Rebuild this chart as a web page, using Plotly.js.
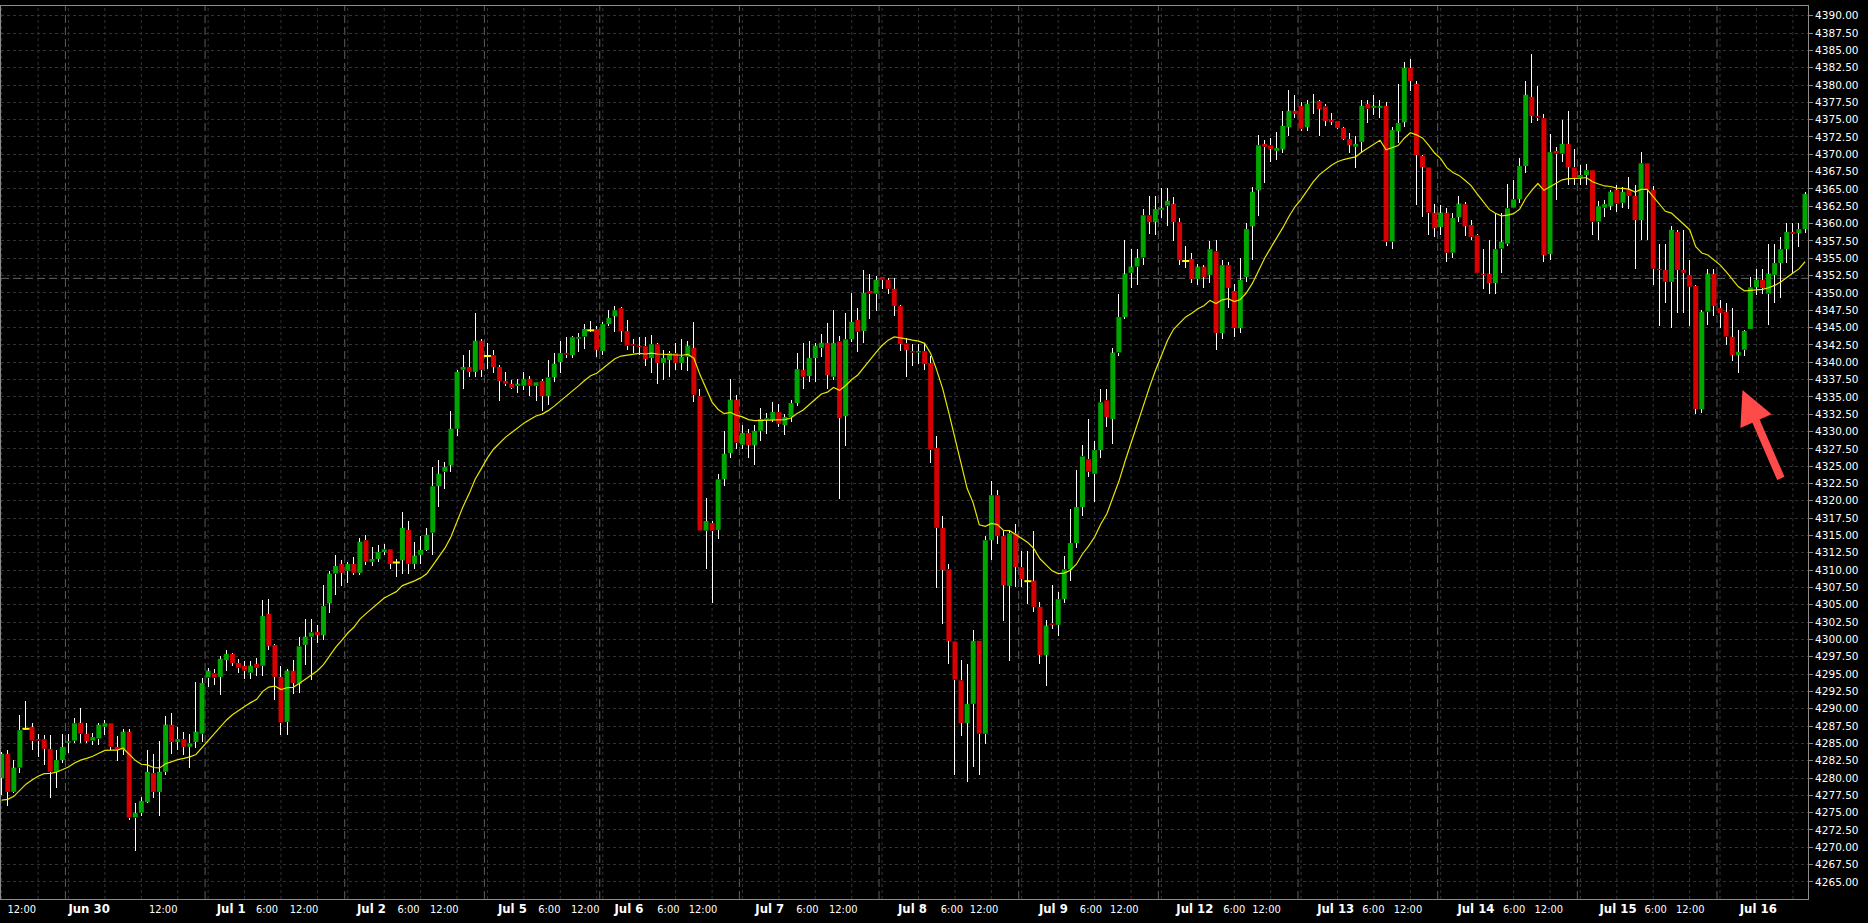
<!DOCTYPE html>
<html><head><meta charset="utf-8">
<script src="https://cdn.plot.ly/plotly-3.0.1.min.js"></script>
<style>html,body{margin:0;padding:0;background:#000;}#chart{width:1868px;height:923px;}
.scatterlayer .trace:first-child path.js-line{shape-rendering:crispEdges;}</style>
</head><body><div id="chart"></div>
<script>
// Hourly candles, Jun 29 12:00 -> Jul 16
const opens = [
4280.0,4283.5,4278.0,4281.5,4287.1,4287.4,4285.6,4285.6,4284.2,4280.9,
4282.6,4285.1,4285.4,4288.0,4286.4,4285.4,4285.7,4287.4,4287.9,4284.5,
4284.1,4286.7,4274.3,4275.0,4276.5,4280.7,4278.0,4280.9,4287.7,4285.2,
4285.6,4284.5,4285.2,4286.4,4294.5,4295.1,4294.6,4297.0,4297.9,4296.6,
4296.2,4295.2,4296.5,4296.2,4303.7,4299.2,4294.6,4288.1,4295.5,4293.6,
4299.2,4300.4,4301.1,4300.6,4305.2,4309.5,4310.9,4309.9,4310.9,4309.6,
4314.3,4311.2,4311.6,4312.6,4313.0,4311.1,4311.4,4315.8,4310.9,4312.2,
4312.9,4315.4,4322.1,4324.2,4325.1,4330.4,4338.9,4339.3,4338.6,4343.1,
4340.9,4341.0,4339.3,4337.3,4336.9,4336.6,4336.6,4337.6,4336.6,4337.3,
4335.1,4337.8,4340.0,4341.3,4341.0,4343.4,4343.7,4344.6,4344.8,4341.6,
4345.5,4346.6,4347.8,4344.5,4342.6,4342.4,4342.3,4340.6,4342.6,4339.9,
4340.3,4341.3,4339.9,4340.8,4342.1,4335.1,4315.7,4316.8,4315.8,4323.1,
4326.9,4334.6,4328.1,4329.8,4328.0,4330.1,4331.7,4331.7,4332.8,4330.9,
4332.1,4334.1,4338.9,4338.0,4340.6,4342.1,4342.8,4337.9,4343.0,4332.2,
4343.3,4346.1,4344.5,4350.3,4349.9,4352.3,4351.9,4350.6,4348.1,4342.7,
4341.6,4341.4,4341.6,4339.9,4327.6,4316.1,4310.1,4299.7,4294.1,4287.9,
4290.7,4299.8,4286.4,4314.3,4320.8,4314.9,4307.7,4315.3,4310.4,4308.4,
4308.5,4304.7,4297.7,4302.3,4302.1,4305.8,4310.1,4313.9,4319.1,4326.0,
4323.9,4327.3,4334.5,4331.8,4341.4,4346.5,4352.9,4353.8,4355.1,4361.2,
4360.2,4362.0,4362.6,4362.9,4360.2,4354.6,4354.9,4352.0,4353.8,4352.6,
4356.0,4344.2,4354.0,4350.3,4344.9,4352.3,4359.6,4364.8,4371.5,4371.3,
4370.5,4370.7,4373.9,4376.3,4377.0,4373.9,4377.5,4377.7,4376.9,4375.0,
4374.8,4373.8,4372.2,4371.1,4371.8,4377.3,4376.7,4376.7,4377.0,4357.4,
4373.3,4374.6,4382.5,4380.2,4369.8,4368.1,4361.6,4359.5,4361.6,4355.8,
4360.9,4362.8,4359.8,4358.3,4352.8,4352.8,4351.4,4356.4,4357.1,4362.3,
4363.5,4368.3,4378.3,4375.5,4375.2,4355.6,4370.5,4370.1,4371.5,4368.1,
4366.6,4367.0,4367.7,4360.3,4362.3,4362.5,4364.9,4363.0,4364.9,4364.0,
4360.5,4368.7,4364.9,4353.5,4353.3,4351.6,4358.8,4353.3,4352.6,4351.0,
4333.2,4347.3,4352.8,4347.8,4347.3,4343.7,4341.0,4341.8,4344.8,4350.8,
4351.9,4349.9,4352.6,4354.3,4356.3,4358.8,4358.6,4359.2];
const highs = [
4283.8,4284.0,4282.6,4289.1,4291.1,4287.9,4286.4,4286.2,4286.2,4284.0,
4286.4,4286.4,4288.6,4290.1,4288.0,4286.5,4287.9,4288.3,4288.0,4286.0,
4287.0,4287.0,4276.4,4277.3,4284.1,4283.5,4285.3,4289.0,4289.4,4287.4,
4286.7,4286.3,4293.9,4294.4,4295.9,4295.7,4297.6,4298.4,4298.1,4297.2,
4296.9,4296.9,4297.3,4305.7,4305.8,4299.3,4296.1,4295.7,4297.1,4300.3,
4303.0,4302.9,4302.1,4307.8,4309.8,4312.2,4311.5,4311.2,4311.9,4314.6,
4315.1,4313.3,4313.6,4313.8,4313.1,4311.6,4318.4,4317.1,4314.1,4314.9,
4316.1,4324.9,4325.9,4325.6,4332.9,4338.9,4341.0,4341.8,4347.1,4343.3,
4342.8,4341.7,4339.6,4338.6,4337.5,4337.6,4338.6,4338.0,4337.1,4337.6,
4340.3,4341.4,4343.0,4343.7,4343.8,4344.2,4345.5,4346.0,4345.2,4345.8,
4347.5,4348.1,4347.9,4346.1,4343.3,4343.6,4343.7,4343.9,4342.8,4341.7,
4341.6,4342.7,4343.3,4343.0,4345.8,4336.2,4320.4,4317.1,4323.9,4330.1,
4337.6,4335.3,4330.9,4330.4,4330.9,4333.4,4332.6,4334.2,4333.9,4332.5,
4334.6,4341.3,4342.8,4343.0,4342.7,4344.1,4345.6,4347.5,4343.8,4347.1,
4350.0,4347.8,4353.3,4352.8,4352.4,4352.3,4352.1,4352.1,4348.2,4343.5,
4342.6,4342.6,4342.6,4340.9,4329.4,4317.8,4310.9,4299.7,4297.1,4296.5,
4301.4,4299.8,4314.9,4322.8,4321.6,4315.7,4315.7,4316.7,4312.7,4312.8,
4315.7,4305.4,4302.8,4307.8,4306.8,4312.1,4318.8,4324.5,4328.1,4331.8,
4328.6,4336.1,4336.1,4342.0,4349.8,4357.7,4356.3,4356.4,4362.1,4364.0,
4364.0,4365.2,4365.2,4363.8,4360.8,4356.8,4355.7,4354.2,4354.0,4357.5,
4357.7,4354.7,4354.4,4351.3,4355.0,4360.1,4365.3,4372.8,4372.1,4372.4,
4373.2,4376.3,4379.3,4378.6,4377.6,4377.9,4378.7,4377.9,4377.2,4375.9,
4374.8,4373.9,4373.1,4372.6,4377.9,4377.9,4378.6,4377.9,4377.5,4374.0,
4380.2,4383.3,4383.7,4380.6,4369.9,4368.1,4362.8,4362.7,4362.2,4361.6,
4364.0,4363.1,4360.5,4358.5,4356.4,4357.7,4361.6,4361.5,4365.7,4366.3,
4369.4,4380.6,4384.5,4379.8,4375.8,4373.0,4371.1,4374.9,4376.3,4370.8,
4368.4,4368.6,4367.8,4363.3,4363.4,4364.9,4365.5,4365.3,4366.7,4365.6,
4370.3,4368.8,4365.4,4357.1,4357.1,4359.6,4359.1,4359.1,4354.7,4351.1,
4347.5,4353.5,4353.5,4349.0,4348.5,4347.8,4344.7,4344.7,4352.3,4353.5,
4353.5,4357.1,4357.1,4358.1,4360.1,4360.1,4360.1,4364.6];
const lows = [
4277.5,4275.9,4277.8,4280.7,4286.9,4284.1,4283.1,4281.9,4277.1,4278.5,
4282.1,4283.6,4285.0,4285.0,4285.0,4284.8,4284.8,4286.2,4284.1,4282.5,
4283.3,4274.0,4269.4,4274.5,4276.4,4277.1,4274.5,4280.4,4283.5,4284.1,
4283.3,4281.4,4284.4,4285.2,4293.1,4293.4,4292.0,4295.5,4296.1,4295.1,
4294.3,4294.3,4294.7,4294.7,4298.5,4291.3,4286.2,4286.2,4292.1,4292.2,
4296.3,4294.1,4299.5,4299.9,4303.8,4306.4,4307.7,4308.1,4309.3,4309.3,
4310.7,4310.6,4311.1,4312.2,4310.1,4309.0,4309.4,4309.4,4310.1,4310.9,
4312.7,4312.2,4319.1,4321.7,4324.1,4329.3,4336.2,4337.8,4337.8,4337.8,
4339.0,4338.5,4334.4,4336.5,4336.1,4335.5,4336.0,4335.1,4334.4,4333.0,
4333.8,4337.1,4338.5,4340.6,4340.6,4341.5,4341.9,4344.3,4340.7,4341.0,
4345.2,4344.4,4342.9,4341.8,4341.3,4341.0,4339.5,4338.5,4336.8,4337.4,
4337.9,4338.9,4338.9,4338.8,4334.2,4315.7,4310.1,4305.2,4314.5,4322.2,
4326.2,4327.5,4327.5,4326.2,4325.2,4328.7,4329.6,4331.3,4330.6,4329.5,
4331.3,4333.7,4336.2,4337.2,4337.2,4340.7,4336.2,4337.4,4320.3,4327.9,
4342.9,4341.5,4342.7,4346.2,4347.4,4350.5,4349.8,4346.7,4341.6,4337.9,
4339.5,4339.7,4338.9,4325.5,4307.4,4302.2,4296.4,4280.4,4286.1,4279.4,
4281.6,4280.4,4284.9,4311.5,4313.8,4302.6,4296.9,4307.5,4307.5,4305.1,
4303.9,4296.4,4293.3,4301.5,4300.5,4305.2,4308.4,4313.2,4317.8,4323.5,
4319.8,4326.2,4330.6,4328.2,4340.9,4346.2,4350.7,4351.2,4354.0,4358.5,
4358.3,4360.8,4359.7,4357.5,4354.0,4353.6,4351.5,4351.2,4350.7,4351.5,
4341.7,4343.3,4347.8,4343.6,4344.2,4351.6,4354.7,4361.1,4365.9,4368.9,
4369.2,4370.2,4372.6,4375.3,4373.3,4373.4,4375.8,4372.6,4374.1,4374.2,
4373.6,4372.1,4370.2,4368.0,4370.2,4374.5,4375.7,4375.2,4356.7,4356.4,
4371.6,4373.9,4379.2,4362.7,4361.0,4358.4,4358.0,4358.4,4354.5,4355.1,
4360.3,4358.2,4357.6,4352.9,4350.5,4349.9,4349.9,4352.9,4356.7,4362.2,
4363.0,4367.3,4374.5,4374.8,4354.5,4354.7,4363.4,4368.9,4365.6,4365.6,
4365.6,4365.6,4358.3,4357.7,4361.0,4361.9,4361.7,4362.2,4362.1,4353.5,
4357.6,4357.6,4351.1,4345.2,4348.5,4345.0,4347.1,4347.1,4345.2,4332.5,
4332.6,4345.4,4346.7,4345.0,4342.5,4340.2,4338.5,4340.9,4344.8,4349.7,
4349.9,4345.4,4348.5,4349.2,4354.3,4352.8,4356.6,4358.6];
const closes = [
4283.5,4278.0,4281.5,4286.9,4287.1,4285.4,4285.4,4284.2,4280.9,4282.6,
4284.5,4285.3,4287.9,4286.4,4285.3,4285.9,4287.7,4287.9,4284.5,4284.1,
4286.7,4274.3,4275.0,4276.7,4280.9,4278.0,4280.9,4287.7,4285.2,4285.6,
4284.5,4285.0,4286.7,4293.7,4295.5,4294.5,4297.2,4297.9,4296.6,4295.9,
4295.5,4296.2,4295.9,4303.4,4299.0,4294.6,4288.0,4295.5,4293.7,4299.0,
4300.4,4301.0,4300.6,4304.8,4309.5,4310.6,4309.6,4310.9,4309.6,4314.1,
4311.2,4311.6,4312.6,4313.0,4310.9,4311.1,4316.1,4310.9,4312.1,4312.9,
4315.1,4322.1,4323.9,4324.9,4330.4,4338.6,4339.3,4338.6,4343.1,4338.9,
4340.9,4339.3,4337.3,4336.9,4336.3,4336.9,4337.6,4336.6,4337.1,4335.1,
4337.8,4339.8,4341.3,4341.1,4343.6,4343.6,4344.8,4344.6,4341.7,4345.5,
4346.4,4347.5,4344.5,4342.4,4342.4,4342.2,4340.4,4342.6,4339.9,4340.6,
4341.3,4339.9,4340.8,4342.4,4335.3,4315.7,4317.1,4315.7,4323.1,4326.8,
4334.6,4328.4,4329.8,4328.0,4330.1,4331.8,4331.9,4332.8,4331.1,4332.1,
4334.1,4339.0,4337.9,4340.6,4342.4,4342.8,4338.1,4342.8,4331.9,4343.3,
4345.8,4344.4,4350.0,4349.9,4351.9,4351.9,4350.6,4348.1,4342.6,4341.7,
4341.4,4341.6,4339.7,4327.4,4316.1,4310.0,4299.7,4294.2,4287.9,4290.7,
4299.8,4286.4,4314.3,4320.8,4314.9,4307.8,4315.3,4310.4,4308.7,4308.4,
4304.7,4297.7,4302.0,4302.1,4305.8,4310.1,4313.9,4319.1,4326.4,4324.2,
4327.3,4334.2,4332.1,4341.4,4346.5,4352.8,4353.8,4355.1,4361.2,4360.2,
4362.1,4362.3,4363.3,4360.2,4354.7,4354.6,4352.0,4353.8,4352.3,4356.3,
4344.2,4354.0,4350.7,4344.9,4351.9,4359.2,4364.6,4371.3,4371.1,4370.7,
4370.9,4374.1,4376.3,4375.8,4373.7,4377.3,4377.6,4376.5,4374.8,4374.6,
4373.8,4372.2,4371.3,4371.5,4377.0,4376.6,4377.0,4377.0,4357.4,4373.5,
4374.5,4382.5,4380.6,4369.9,4368.1,4361.6,4359.3,4361.6,4355.8,4360.8,
4362.9,4359.6,4358.1,4352.9,4352.6,4351.4,4356.3,4357.4,4362.2,4363.5,
4368.3,4378.6,4375.5,4375.3,4355.4,4370.3,4370.1,4371.5,4368.1,4366.5,
4367.0,4367.7,4360.3,4362.5,4362.8,4364.6,4362.9,4364.6,4364.0,4360.5,
4368.7,4364.9,4353.5,4353.3,4351.6,4359.1,4353.3,4352.9,4350.9,4333.2,
4347.3,4352.8,4348.1,4347.1,4343.7,4341.0,4341.5,4344.5,4350.8,4351.9,
4350.7,4352.8,4354.3,4356.3,4358.8,4358.5,4359.2,4364.3];

// time axis labels (candle-index positions of label centres)
const tickLabels = ['12:00','Jun 30','12:00','Jul 1','6:00','12:00','Jul 2','6:00','12:00',
  'Jul 5','6:00','12:00','Jul 6','6:00','12:00','Jul 7','6:00','12:00','Jul 8','6:00','12:00',
  'Jul 9','6:00','12:00','Jul 12','6:00','12:00','Jul 13','6:00','12:00','Jul 14','6:00','12:00',
  'Jul 15','6:00','12:00','Jul 16'];
const tickPos = [3.3,14.4,26.6,37.8,43.7,49.8,60.9,67.0,72.9,84.1,90.2,96.1,103.3,109.8,115.5,
  126.5,132.7,138.6,150.0,156.5,161.8,173.2,179.4,184.9,196.5,203.0,208.3,219.7,225.9,231.6,
  242.8,249.1,254.8,266.2,272.4,278.1,289.3];
// first candle (00:00) of each session
const sessionStart = [-12,11,34,57,80,99,122,145,168,191,214,237,260,283];
const emaPeriod = 20;
const emaSeed = 4276.1;      // average value before the first visible bar
const levelLine = 4352.1;    // horizontal dashed level
const arrowTip = {i: 286.7, price: 4336.0};

const GREEN = '#00a600', RED = '#d80000', DOJI = '#ffff00', WICK = '#ffffff';
const n = closes.length;
const idx = closes.map((_, i) => i);
const isDoji = i => opens[i] === closes[i];
const bodyIdx = idx.filter(i => !isDoji(i));
const dojiIdx = idx.filter(i => isDoji(i));

const bodies = {
  type: 'bar', x: bodyIdx,
  base: bodyIdx.map(i => Math.min(opens[i], closes[i])),
  y: bodyIdx.map(i => Math.abs(closes[i] - opens[i])),
  width: 0.82,
  marker: {color: bodyIdx.map(i => closes[i] > opens[i] ? GREEN : RED), line: {width: 0}},
  hoverinfo: 'skip'
};
const wx = [], wy = [];
idx.forEach(i => {
  const top = Math.max(opens[i], closes[i]), bot = Math.min(opens[i], closes[i]);
  wx.push(i, i, null, i, i, null);
  wy.push(highs[i], top, null, bot, lows[i], null);
});
const wicks = {type: 'scatter', mode: 'lines', x: wx, y: wy, line: {color: WICK, width: 1}, hoverinfo: 'skip'};
const dojis = {type: 'scatter', mode: 'markers', x: dojiIdx, y: dojiIdx.map(i => closes[i]),
  marker: {symbol: 'line-ew', size: 5, line: {color: DOJI, width: 2}}, hoverinfo: 'skip'};
const alpha = 2 / (emaPeriod + 1);
let e = emaSeed;
const ema = closes.map(c => (e = e + alpha * (c - e)));
const emaTrace = {type: 'scatter', mode: 'lines', x: idx, y: ema, line: {color: '#e6e600', width: 1.2}, hoverinfo: 'skip'};

// grid lines every 6 hours and session separators
const gridIdx = [];
sessionStart.forEach((s, k) => {
  const next = k + 1 < sessionStart.length ? sessionStart[k + 1] : n + 10;
  [0, 6, 12, 18].forEach(o => { const g = s + o; if (g < next && g >= -0.5 && g <= n) gridIdx.push(g); });
});
const shapes = [];
gridIdx.forEach(g => shapes.push({type: 'line', xref: 'x', yref: 'paper', x0: g, x1: g, y0: 0, y1: 1,
  layer: 'below', line: {color: '#333333', width: 1, dash: '3px,3px'}}));
sessionStart.filter(s => s > 0).forEach(s => shapes.push({type: 'line', xref: 'x', yref: 'paper',
  x0: s - 0.5, x1: s - 0.5, y0: 0, y1: 1, layer: 'below', line: {color: '#5e5e5e', width: 1, dash: '8px,4px'}}));
shapes.push({type: 'line', xref: 'paper', yref: 'y', x0: 0, x1: 1, y0: levelLine, y1: levelLine,
  layer: 'below', line: {color: '#666666', width: 1, dash: '8px,4px'}});

const xLeft = -0.11, xRight = 297.49;
const layout = {
  width: 1868, height: 923,
  paper_bgcolor: '#000', plot_bgcolor: '#000',
  margin: {l: 1, r: 60, t: 6, b: 24, pad: 0},
  showlegend: false, hovermode: false, barmode: 'overlay',
  xaxis: {
    range: [xLeft, xRight], tickmode: 'array', tickvals: tickPos,
    ticktext: tickLabels.map(t => t.indexOf(':') < 0 ? '<span style="font-size:13px"><b>' + t + '</b></span>' : t),
    tickangle: 0, showgrid: false, zeroline: false, showline: true, mirror: true,
    linecolor: '#8c8c8c', linewidth: 1, ticks: '',
    tickfont: {family: 'DejaVu Sans Condensed, DejaVu Sans, sans-serif', size: 11, color: '#ffffff'}
  },
  yaxis: {
    side: 'right', range: [4262.54, 4391.4], tickmode: 'linear', tick0: 4265, dtick: 2.5,
    tickformat: '.2f', showgrid: true, gridcolor: '#333333', griddash: '3px,3px', gridwidth: 1,
    zeroline: false, showline: true, mirror: true, linecolor: '#8c8c8c', linewidth: 1,
    ticks: 'outside', ticklen: 4, tickcolor: '#8c8c8c',
    tickfont: {family: 'DejaVu Sans, sans-serif', size: 10.5, color: '#ffffff'}
  },
  shapes: shapes,
  annotations: [{x: arrowTip.i, y: arrowTip.price, xref: 'x', yref: 'y', text: '', showarrow: true,
    ax: 39, ay: 90, arrowhead: 2, arrowsize: 0.85, arrowwidth: 8, arrowcolor: '#ff4a4a'}]
};
Plotly.newPlot('chart', [bodies, wicks, dojis, emaTrace], layout, {staticPlot: true, displayModeBar: false});
</script></body></html>
